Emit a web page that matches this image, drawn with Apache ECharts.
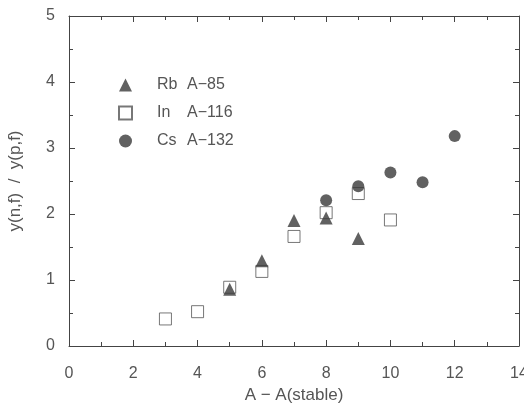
<!DOCTYPE html>
<html>
<head>
<meta charset="utf-8">
<script src="https://cdn.jsdelivr.net/npm/echarts@6/dist/echarts.min.js"></script>
<style>
  html, body { margin: 0; padding: 0; background: #fff; }
  #chart { width: 524px; height: 406px; }
</style>
</head>
<body>
<div id="chart"></div>
<script>
// values
const rbX = [5, 6, 7, 8, 9]
const rbY = [0.86, 1.29, 1.90, 1.94, 1.63]
const inX = [3, 4, 5, 6, 7, 8, 9, 10]
const inY = [0.41, 0.52, 0.89, 1.13, 1.66, 2.02, 2.31, 1.91]
const csX = [8, 9, 10, 11, 12]
const csY = [2.21, 2.42, 2.63, 2.48, 3.18]
const legendNames = ['Rb A\u221285', 'In A\u2212116', 'Cs A\u2212132']

const pairs = (xs, ys) => xs.map((x, i) => [x, ys[i]])

const ink = '#3a3a3a'
const textColor = '#555'
const font = 'Liberation Sans'

const chart = echarts.init(document.getElementById('chart'))

const axisCommon = {
  axisLine: { show: true, onZero: false, lineStyle: { color: '#444', width: 1 } },
  axisTick: { show: true, inside: true, length: 6, lineStyle: { color: '#444' } },
  minorTick: { show: true, splitNumber: 2, length: 4, lineStyle: { color: '#444' } },
  splitLine: { show: false }
}

chart.setOption({
  backgroundColor: '#fff',
  animation: false,
  textStyle: { fontFamily: font },
  grid: { left: 69, right: 5, top: 16, bottom: 60, outerBoundsMode: 'none', containLabel: false },
  legend: {
    orient: 'vertical',
    left: 113,
    top: 72,
    itemWidth: 13,
    itemHeight: 13,
    itemGap: 12,
    data: [
      { name: legendNames[0], icon: 'triangle' },
      { name: legendNames[1], icon: 'rect' },
      { name: legendNames[2], icon: 'circle' }
    ],
    formatter: name => {
      const parts = name.split(' ')
      return '{a|' + parts[0] + '}{b|' + parts[1] + '}'
    },
    textStyle: {
      color: textColor,
      fontSize: 16,
      rich: {
        a: { width: 30, padding: [0, 0, 0, 20], fontSize: 16, color: textColor },
        b: { fontSize: 16, color: textColor }
      }
    }
  },
  xAxis: [
    Object.assign({}, axisCommon, {
      type: 'value', min: 0, max: 14, interval: 2, position: 'bottom',
      name: 'A \u2212 A(stable)', nameLocation: 'middle', nameGap: 41,
      nameTextStyle: { fontSize: 17, color: textColor },
      axisLabel: { fontSize: 16, color: textColor, margin: 20 }
    }),
    Object.assign({}, axisCommon, {
      type: 'value', min: 0, max: 14, interval: 2, position: 'top',
      axisLabel: { show: false }
    })
  ],
  yAxis: [
    Object.assign({}, axisCommon, {
      type: 'value', min: 0, max: 5, interval: 1, position: 'left',
      name: 'y(n,f)  /  y(p,f)', nameLocation: 'middle', nameGap: 45,
      nameTextStyle: { fontSize: 17, color: textColor },
      axisLabel: { fontSize: 16, color: textColor, margin: 14 }
    }),
    Object.assign({}, axisCommon, {
      type: 'value', min: 0, max: 5, interval: 1, position: 'right',
      axisLabel: { show: false }
    })
  ],
  series: [
    {
      name: legendNames[0], type: 'scatter', symbol: 'triangle', symbolSize: 13,
      itemStyle: { color: ink },
      data: pairs(rbX, rbY), z: 3
    },
    {
      name: legendNames[1], type: 'scatter', symbol: 'rect', symbolSize: 12,
      itemStyle: { color: '#fff', borderColor: '#555', borderWidth: 1 },
      data: pairs(inX, inY), z: 2
    },
    {
      name: legendNames[2], type: 'scatter', symbol: 'circle', symbolSize: 12,
      itemStyle: { color: ink },
      data: pairs(csX, csY), z: 4
    }
  ]
})
</script>
</body>
</html>
